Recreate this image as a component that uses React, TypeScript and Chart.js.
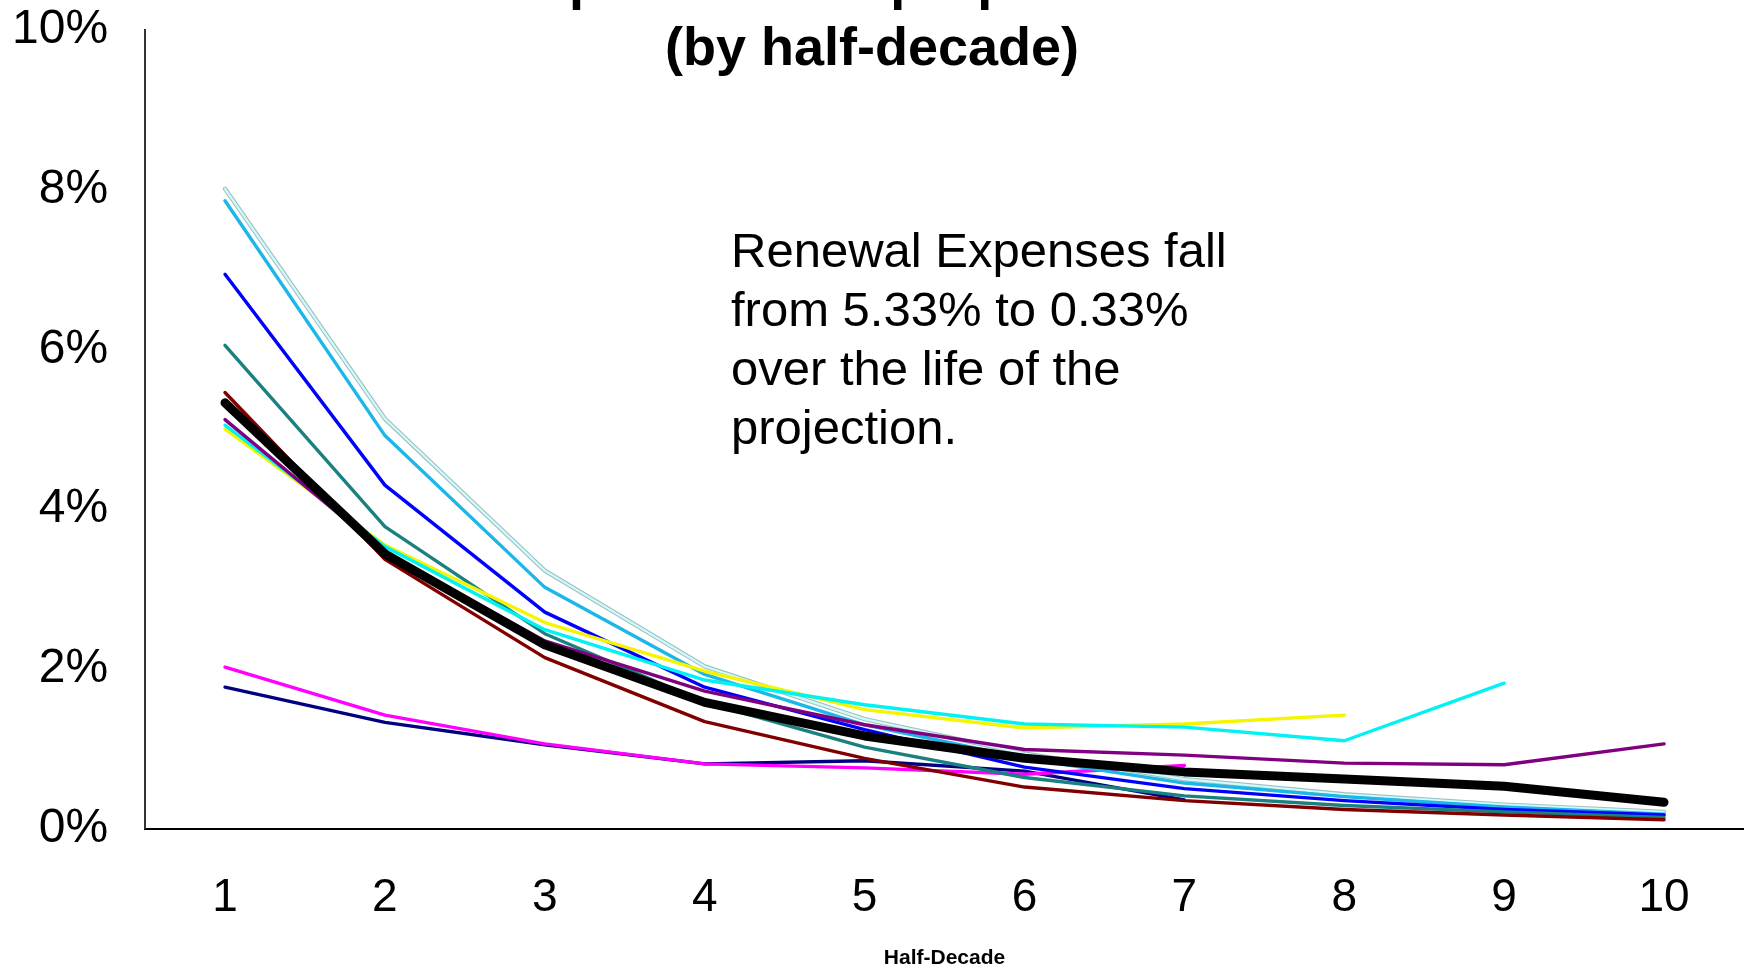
import React, { useEffect, useRef } from 'react';
import { Chart, registerables } from 'chart.js';

Chart.register(...registerables);

const FONT = '"Liberation Sans", Arial, Helvetica, sans-serif';

// ---- data ----
const categories = ['1', '2', '3', '4', '5', '6', '7', '8', '9', '10'];
const yTickValues = [0, 2, 4, 6, 8, 10];

const averageSeries = [5.33, 3.44, 2.3, 1.58, 1.16, 0.88, 0.71, 0.62, 0.53, 0.33];
const paleTurquoiseSeries = [8.01, 5.13, 3.23, 2.03, 1.37, 0.94, 0.62, 0.43, 0.3, 0.21];
const skyBlueSeries = [7.86, 4.92, 3.02, 1.93, 1.3, 0.88, 0.57, 0.4, 0.27, 0.18];
const blueSeries = [6.94, 4.3, 2.71, 1.77, 1.24, 0.77, 0.5, 0.35, 0.24, 0.17];
const tealSeries = [6.05, 3.78, 2.44, 1.58, 1.02, 0.64, 0.41, 0.29, 0.21, 0.14];
const maroonSeries = [5.46, 3.37, 2.14, 1.34, 0.88, 0.52, 0.35, 0.24, 0.17, 0.11];
const purpleSeries = [5.12, 3.46, 2.35, 1.72, 1.3, 0.99, 0.92, 0.82, 0.8, 1.06];
const cyanSeries = [5.05, 3.53, 2.49, 1.86, 1.55, 1.31, 1.27, 1.1, 1.82];
const yellowSeries = [5.0, 3.55, 2.58, 1.97, 1.49, 1.26, 1.31, 1.42];
const magentaSeries = [2.02, 1.42, 1.06, 0.81, 0.76, 0.68, 0.79];
const navySeries = [1.77, 1.33, 1.05, 0.81, 0.85, 0.72, 0.36];

const titleLines = ['Renewal Expenses as a proportion of Premium', '(by half-decade)'];
const noteLines = ['Renewal Expenses fall', 'from 5.33% to 0.33%', 'over the life of the', 'projection.'];
const xAxisTitle = 'Half-Decade';

const overlayText = {
  id: 'overlayText',
  afterDraw(chart: any) {
    const ctx = chart.ctx;
    ctx.save();
    ctx.fillStyle = '#000';
    ctx.textBaseline = 'alphabetic';
    ctx.textAlign = 'center';
    ctx.font = `bold 54px ${FONT}`;
    const cx = chart.width / 2;
    ctx.fillText(titleLines[0], cx, -1);
    ctx.fillText(titleLines[1], cx, 65);
    ctx.textAlign = 'left';
    ctx.font = `49px ${FONT}`;
    noteLines.forEach((t, i) => ctx.fillText(t, 731, 267 + i * 59));
    ctx.restore();
  },
};

function line(data: number[], color: string, width: number) {
  return {
    data,
    borderColor: color,
    backgroundColor: color,
    borderWidth: width,
    pointRadius: 0,
    pointHoverRadius: 0,
    tension: 0,
    fill: false,
    borderJoinStyle: 'round' as const,
    borderCapStyle: 'round' as const,
  };
}

export default function App() {
  const ref = useRef<HTMLCanvasElement | null>(null);

  useEffect(() => {
    if (!ref.current) return;
    const chart = new Chart(ref.current, {
      type: 'line',
      data: {
        labels: categories,
        datasets: [
          line(averageSeries, '#000000', 9),
          line(maroonSeries, '#800000', 3.4),
          line(purpleSeries, '#800080', 3.4),
          line(cyanSeries, '#00F2F2', 3.4),
          line(yellowSeries, '#F5F500', 3.4),
          line(tealSeries, '#1A8080', 3.4),
          line(blueSeries, '#0000FF', 3.4),
          line(skyBlueSeries, '#1CB6E8', 3.4),
          line(paleTurquoiseSeries, '#D2FAFA', 2.2),
          line(paleTurquoiseSeries, '#9EC0C2', 4.4),
          line(magentaSeries, '#FF00FF', 3.4),
          line(navySeries, '#000080', 3.4),
        ],
      },
      options: {
        responsive: false,
        maintainAspectRatio: false,
        animation: false,
        layout: { padding: { left: 11, top: 6, right: 0, bottom: 0 } },
        plugins: {
          legend: { display: false },
          tooltip: { enabled: false },
          title: { display: false },
        },
        scales: {
          x: {
            type: 'category',
            offset: true,
            grid: {
              display: true,
              drawOnChartArea: false,
              drawTicks: true,
              tickLength: 41,
              color: 'rgba(0,0,0,0)',
            },
            border: { display: true, color: '#000', width: 2 },
            ticks: {
              color: '#000',
              font: { family: FONT, size: 46 },
              padding: 1,
              maxRotation: 0,
              autoSkip: false,
            },
            title: {
              display: true,
              text: xAxisTitle,
              color: '#000',
              font: { family: FONT, size: 21, weight: 'bold' },
              padding: { top: 19, bottom: -2 },
            },
          },
          y: {
            min: yTickValues[0],
            max: yTickValues[yTickValues.length - 1],
            grid: {
              display: true,
              drawOnChartArea: false,
              drawTicks: true,
              tickLength: 36,
              color: 'rgba(0,0,0,0)',
            },
            border: { display: true, color: '#333', width: 2 },
            afterBuildTicks: (axis: any) => {
              axis.ticks = yTickValues.map((v) => ({ value: v }));
            },
            ticks: {
              color: '#000',
              font: { family: FONT, size: 48 },
              padding: 1,
              callback: (v: any) => `${v}%`,
            },
          },
        },
      },
      plugins: [overlayText],
    });
    return () => chart.destroy();
  }, []);

  return (
    <div style={{ position: 'fixed', left: 0, top: 0, width: 1744, height: 969, background: '#fff' }}>
      <canvas ref={ref} width={1744} height={969} style={{ display: 'block', width: 1744, height: 969 }} />
    </div>
  );
}
